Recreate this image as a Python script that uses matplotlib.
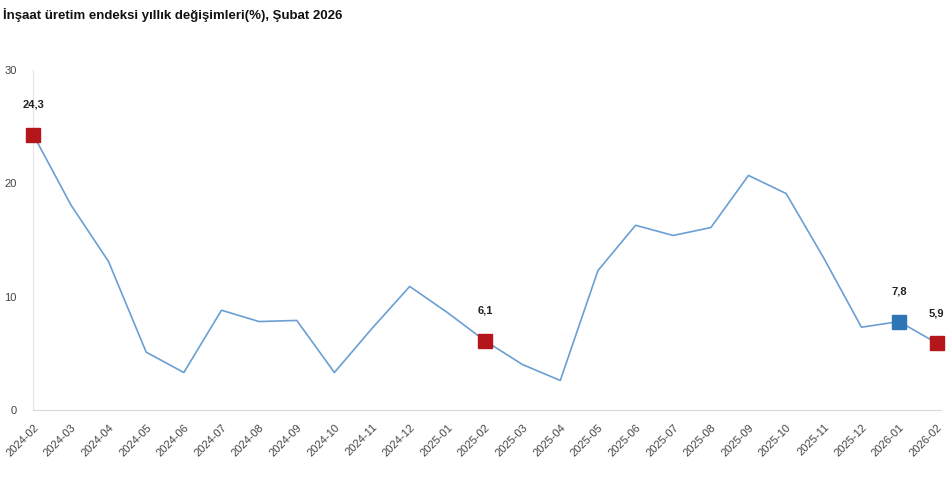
import matplotlib
matplotlib.use("Agg")
import matplotlib.pyplot as plt

plt.rcParams['font.family'] = ['Liberation Sans', 'DejaVu Sans']

months = ['2024-02', '2024-03', '2024-04', '2024-05', '2024-06', '2024-07',
          '2024-08', '2024-09', '2024-10', '2024-11', '2024-12', '2025-01',
          '2025-02', '2025-03', '2025-04', '2025-05', '2025-06', '2025-07',
          '2025-08', '2025-09', '2025-10', '2025-11', '2025-12', '2026-01',
          '2026-02']
values = [24.3, 18.1, 13.1, 5.1, 3.3, 8.8, 7.8, 7.9, 3.3, 7.2, 10.9, 8.6,
          6.1, 4.0, 2.6, 12.3, 16.3, 15.4, 16.1, 20.7, 19.1, 13.4, 7.3, 7.8,
          5.9]
# highlighted points
red_pts = [0, 12, 24]
blue_pts = [23]

fig = plt.figure(figsize=(9.5, 4.8), dpi=100)
ax = fig.add_axes([0.035, 0.146, 0.955, 0.708])

x = list(range(len(months)))
ax.plot(x, values, color='#6a9fd4', lw=1.2, zorder=2)

for i in red_pts:
    ax.plot(i, values[i], 's', ms=10, color='#b4161b', zorder=3, clip_on=False)
for i in blue_pts:
    ax.plot(i, values[i], 's', ms=10, color='#2e75b6', zorder=3, clip_on=False)
for i in red_pts + blue_pts:
    ax.annotate(f'{values[i]:.1f}'.replace('.', ','), (i, values[i]),
                xytext=(0, 18), textcoords='offset points', ha='center',
                va='bottom', fontsize=8, fontweight='bold', color='#222222',
                annotation_clip=False)

ax.set_xlim(0, 24.1)
ax.set_ylim(0, 30)
ax.set_yticks([0, 10, 20, 30])
ax.set_xticks(x)
ax.set_xticklabels(months, rotation=45, ha='right', rotation_mode='anchor',
                   fontsize=8, color='#444444')
ax.tick_params(axis='y', labelsize=8, colors='#444444', length=0, pad=12)
ax.tick_params(axis='x', length=0, pad=9)

for s in ['top', 'right']:
    ax.spines[s].set_visible(False)
ax.spines['left'].set_color('#e4e4e4')
ax.spines['bottom'].set_color('#d9d9d9')

fig.text(0.003, 0.968, 'İnşaat üretim endeksi yıllık değişimleri(%), Şubat 2026',
         fontsize=9.5, fontweight='bold', color='#111111', va='center')

fig.savefig('out.png', dpi=100)
